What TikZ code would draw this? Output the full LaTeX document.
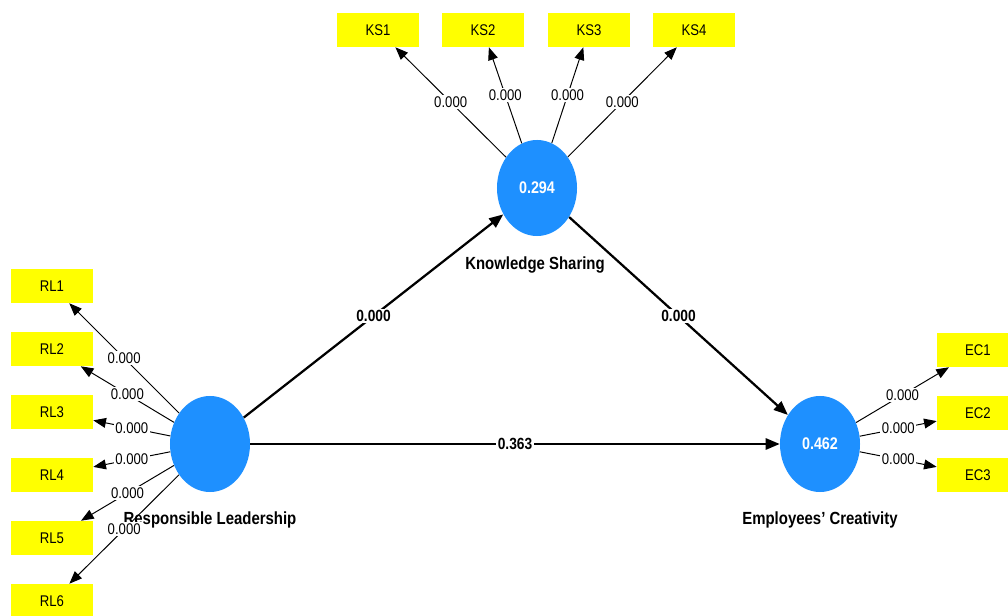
\documentclass[tikz,border=0pt]{standalone}
\usepackage{fontspec}
\setmainfont{Liberation Sans}[FakeStretch=0.85]
\usetikzlibrary{arrows.meta,shapes.geometric}
\definecolor{lvblue}{RGB}{30,144,255}
\definecolor{indyellow}{RGB}{255,255,0}
\begin{document}
\begin{tikzpicture}[x=0.025cm,y=-0.025cm,
  lv/.style={ellipse, fill=lvblue, minimum width=2cm, minimum height=2.4cm, inner sep=0pt, font=\fontsize{12}{14}\selectfont\bfseries, text=white},
  ind/.style={fill=indyellow, minimum width=2.05cm, minimum height=0.85cm, inner sep=0pt, font=\fontsize{11}{13}\selectfont},
  lvname/.style={font=\fontsize{12.5}{14}\selectfont\bfseries},
  load/.style={-{Triangle[length=9pt,width=7pt]}, line width=0.7pt},
  strpath/.style={-{Triangle[length=10pt,width=8pt]}, line width=1.6pt},
  lbl/.style={fill=white, inner sep=1pt, font=\fontsize{11}{13}\selectfont},
  plbl/.style={fill=white, inner sep=1pt, font=\fontsize{11.5}{13}\selectfont\bfseries}]
\useasboundingbox (0,0) rectangle (1008,616);
\clip (0,0) rectangle (1008,616);
% latent variables
\node[lv] (ks) at (537,188) {0.294};
\node[lv] (rl) at (210,444) {};
\node[lv] (ec) at (820,444) {0.462};
\node[lvname] (ksn) at (535,265) {Knowledge Sharing};
\node[lvname] (rln) at (210,520) {Responsible Leadership};
\node[lvname] (ecn) at (820,520) {Employees' Creativity};
% indicators
\node[ind] (ks1) at (378,30) {KS1};
\node[ind] (ks2) at (483,30) {KS2};
\node[ind] (ks3) at (589,30) {KS3};
\node[ind] (ks4) at (694,30) {KS4};
\node[ind] (rl1) at (52,286) {RL1};
\node[ind] (rl2) at (52,349) {RL2};
\node[ind] (rl3) at (52,412) {RL3};
\node[ind] (rl4) at (52,475) {RL4};
\node[ind] (rl5) at (52,538) {RL5};
\node[ind] (rl6) at (52,601) {RL6};
\node[ind] (ec1) at (978,350) {EC1};
\node[ind] (ec2) at (978,413) {EC2};
\node[ind] (ec3) at (978,475) {EC3};
% loadings
\draw[load] (ks) -- node[lbl]{0.000} (ks1);
\draw[load] (ks) -- node[lbl]{0.000} (ks2);
\draw[load] (ks) -- node[lbl]{0.000} (ks3);
\draw[load] (ks) -- node[lbl]{0.000} (ks4);
\draw[load] (rl) -- node[lbl]{0.000} (rl1);
\draw[load] (rl) -- node[lbl]{0.000} (rl2);
\draw[load] (rl) -- node[lbl]{0.000} (rl3);
\draw[load] (rl) -- node[lbl]{0.000} (rl4);
\draw[load] (rl) -- node[lbl]{0.000} (rl5);
\draw[load] (rl) -- node[lbl]{0.000} (rl6);
\draw[load] (ec) -- node[lbl]{0.000} (ec1);
\draw[load] (ec) -- node[lbl]{0.000} (ec2);
\draw[load] (ec) -- node[lbl]{0.000} (ec3);
% structural paths
\draw[strpath] (rl) -- node[plbl]{0.000} (ks);
\draw[strpath] (ks) -- node[plbl]{0.000} (ec);
\draw[strpath] (rl) -- node[plbl]{0.363} (ec);
\end{tikzpicture}
\end{document}
